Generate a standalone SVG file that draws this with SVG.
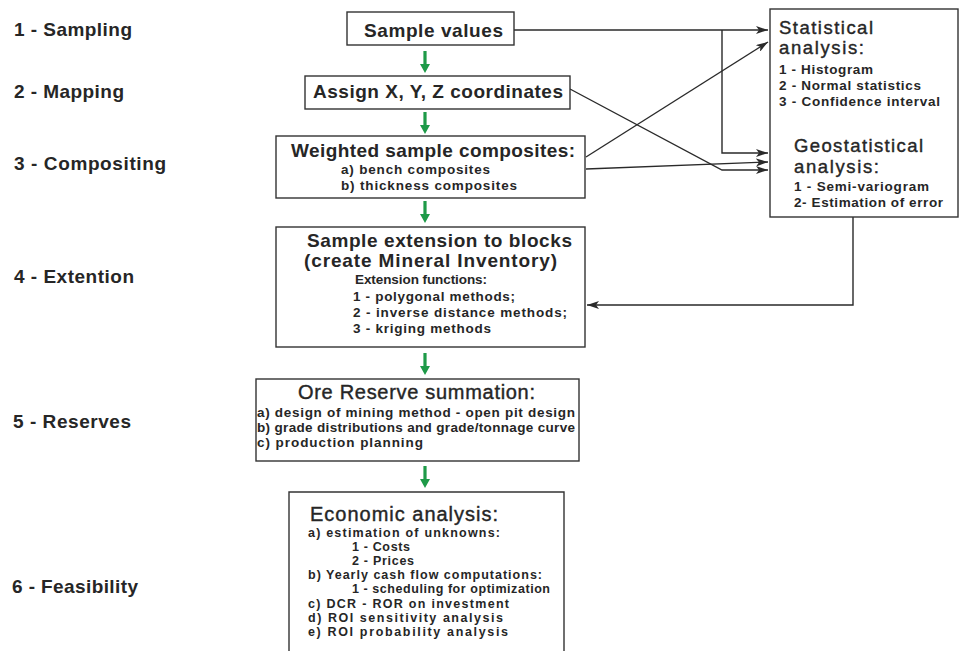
<svg xmlns="http://www.w3.org/2000/svg" width="962" height="651" viewBox="0 0 962 651">
<defs>
<style>
text{font-family:"Liberation Sans",Arial,sans-serif;font-weight:bold;fill:#262626;}
.lbl{font-size:19px;}
.ttl{font-size:19px;}
.big{font-size:20px;font-weight:normal;stroke:#262626;stroke-width:0.4;}
.sb{font-size:18.5px;}
.sub{font-size:13.5px;}
.es{font-size:12.5px;}
.box{fill:#fff;stroke:#333;stroke-width:1.4;}
.con{fill:none;stroke:#2a2a2a;stroke-width:1.4;}
.g{fill:#1e9a48;}
</style>
<marker id="ah" viewBox="0 0 12 8" refX="12" refY="4" markerWidth="12" markerHeight="8" markerUnits="userSpaceOnUse" orient="auto">
<path d="M0,0 L12,4 L0,8 L3,4 Z" fill="#2a2a2a"/>
</marker>
<path id="ga" d="M-1.6,0 H1.6 V13 H5 L0,22 L-5,13 H-1.6 Z"/>
</defs>

<g id="stage-labels">
<text class="lbl" x="14" y="36" textLength="118">1 - Sampling</text>
<text class="lbl" x="14" y="98" textLength="110">2 - Mapping</text>
<text class="lbl" x="14" y="170" textLength="152">3 - Compositing</text>
<text class="lbl" x="14" y="283" textLength="120">4 - Extention</text>
<text class="lbl" x="13" y="428" textLength="118">5 - Reserves</text>
<text class="lbl" x="12" y="593" textLength="126">6 - Feasibility</text>
</g>

<g id="connectors">
<polyline class="con" points="514,30 768,30" marker-end="url(#ah)"/>
<polyline class="con" points="722,30 722,153 768,153" marker-end="url(#ah)"/>
<polyline class="con" points="570,89 722,170 768,170" marker-end="url(#ah)"/>
<line class="con" x1="586" y1="157" x2="768" y2="42" marker-end="url(#ah)"/>
<line class="con" x1="586" y1="169" x2="768" y2="162" marker-end="url(#ah)"/>
<polyline class="con" points="853,217 853,305 587,305" marker-end="url(#ah)"/>
<g class="g">
<use href="#ga" x="425" y="51"/>
<use href="#ga" x="425" y="112"/>
<use href="#ga" x="425" y="201"/>
<use href="#ga" x="425" y="353"/>
<use href="#ga" x="425" y="466"/>
</g>
</g>

<g id="sample-values">
<rect class="box" x="347" y="12" width="167" height="33"/>
<text class="ttl" x="364" y="37" textLength="139">Sample values</text>
</g>

<g id="assign-coordinates">
<rect class="box" x="305" y="76" width="265" height="33"/>
<text class="ttl" x="313" y="98" textLength="250">Assign X, Y, Z coordinates</text>
</g>

<g id="weighted-composites">
<rect class="box" x="276" y="136" width="309" height="62"/>
<text class="ttl" x="291" y="157" textLength="284">Weighted sample composites:</text>
<text class="sub" x="341" y="174" textLength="149">a) bench composites</text>
<text class="sub" x="341" y="190" textLength="176">b) thickness composites</text>
</g>

<g id="extension">
<rect class="box" x="276" y="227" width="309" height="120"/>
<text class="ttl" x="307" y="247" textLength="265">Sample extension to blocks</text>
<text class="ttl" x="304" y="267" textLength="253">(create Mineral Inventory)</text>
<text class="sub" x="355" y="284" textLength="132">Extension functions:</text>
<text class="sub" x="353" y="301" textLength="162">1 - polygonal methods;</text>
<text class="sub" x="353" y="317" textLength="214">2 - inverse distance methods;</text>
<text class="sub" x="353" y="333" textLength="138">3 - kriging methods</text>
</g>

<g id="ore-reserve">
<rect class="box" x="256" y="379" width="323" height="82"/>
<text class="big" x="298" y="399" textLength="237">Ore Reserve summation:</text>
<text class="sub" x="257" y="417" textLength="318">a) design of mining method - open pit design</text>
<text class="sub" x="257" y="432" textLength="318">b) grade distributions and grade/tonnage curve</text>
<text class="sub" x="257" y="447" textLength="166">c) production planning</text>
</g>

<g id="economic-analysis">
<path class="box" d="M289,660 V492 H564 V660"/>
<text class="big" x="310" y="521" textLength="188">Economic analysis:</text>
<text class="sub es" x="308" y="537" textLength="192">a) estimation of unknowns:</text>
<text class="sub es" x="352" y="551" textLength="58">1 - Costs</text>
<text class="sub es" x="352" y="565" textLength="62">2 - Prices</text>
<text class="sub es" x="308" y="579" textLength="234">b) Yearly cash flow computations:</text>
<text class="sub es" x="352" y="593" textLength="198">1 - scheduling for optimization</text>
<text class="sub es" x="308" y="608" textLength="201">c) DCR - ROR on investment</text>
<text class="sub es" x="308" y="622" textLength="195">d) ROI sensitivity analysis</text>
<text class="sub es" x="308" y="636" textLength="200">e) ROI probability analysis</text>
</g>

<g id="analysis">
<rect class="box" x="770" y="9" width="188" height="208"/>
<text class="big sb" x="779" y="34" textLength="94">Statistical</text>
<text class="big sb" x="779" y="54" textLength="85">analysis:</text>
<text class="sub" x="779" y="74" textLength="94">1 - Histogram</text>
<text class="sub" x="779" y="90" textLength="142">2 - Normal statistics</text>
<text class="sub" x="779" y="106" textLength="161">3 - Confidence interval</text>
<text class="big sb" x="794" y="152" textLength="129">Geostatistical</text>
<text class="big sb" x="794" y="173" textLength="85">analysis:</text>
<text class="sub" x="794" y="191" textLength="135">1 - Semi-variogram</text>
<text class="sub" x="794" y="207" textLength="149">2- Estimation of error</text>
</g>
</svg>
